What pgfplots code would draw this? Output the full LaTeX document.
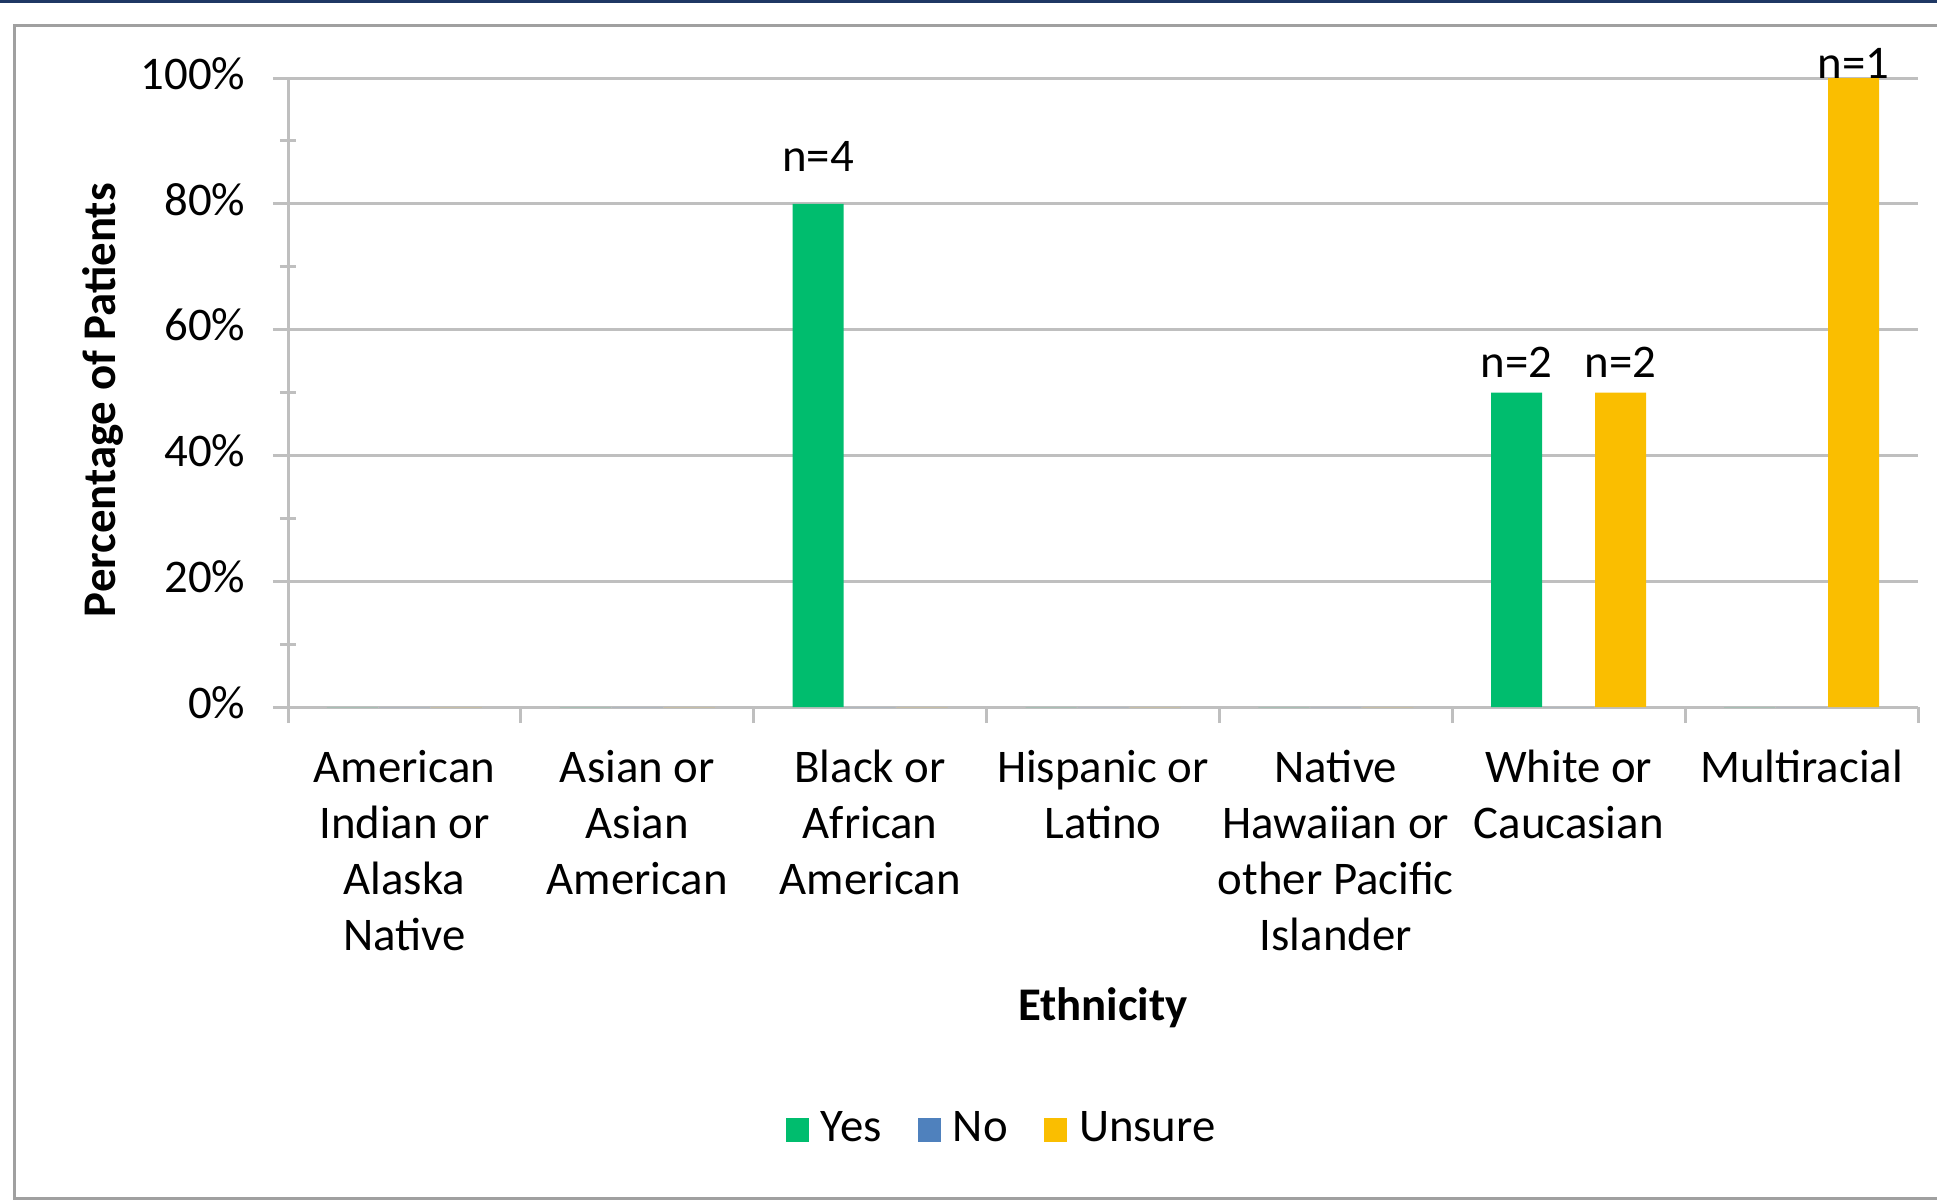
\documentclass[border=0pt]{standalone}
\usepackage{pgfplots}
\usepackage{pgfplotstable}
\pgfplotsset{compat=1.18}
\usepackage{fontspec}
\setmainfont{Carlito}
\definecolor{cgreen}{RGB}{0,189,110}
\definecolor{cblue}{RGB}{79,129,189}
\definecolor{cgold}{RGB}{250,190,0}
\definecolor{cgrid}{RGB}{191,191,191}
\definecolor{cframe}{RGB}{160,160,160}
\definecolor{cnavy}{RGB}{31,56,100}

\pgfplotstableread{
x yes no unsure
0 0 0 0
1 0 0 0
2 80 0 0
3 0 0 0
4 0 0 0
5 50 0 50
6 0 0 100
}\datatable

\pgfplotsset{sq legend/.style={legend image code/.code={\fill[##1] (0pt,-2.9pt) rectangle (5.8pt,2.9pt); \path (7.3pt,0pt);}}}

\begin{document}
\fontsize{11.7}{14}\selectfont
\begin{tikzpicture}[font=\fontsize{11.7}{14}\selectfont]
\useasboundingbox (0,0) rectangle (484.25pt,300.75pt);
\clip (0,0) rectangle (484.25pt,300.75pt);
\fill[cnavy] (0,300pt) rectangle (484.25pt,301pt);
\draw[cframe, line width=0.75pt] (490pt,294.25pt) -- (3.5pt,294.25pt) -- (3.5pt,1.25pt) -- (490pt,1.25pt);
\begin{axis}[
  at={(72pt,124pt)}, anchor=south west,
  width=407.5pt, height=157.25pt, scale only axis,
  xmin=-0.5, xmax=6.5, ymin=0, ymax=100,
  clip=false,
  axis lines*=left,
  axis line style={cgrid, line width=0.75pt},
  ymajorgrids,
  major grid style={cgrid, line width=0.75pt},
  tick align=outside,
  tick style={cgrid, line width=0.75pt},
  major tick length=3.75pt,
  minor tick length=4pt,
  minor y tick style={xshift=2pt},
  major x tick style={draw=none},
  xtick={0,...,6},
  minor xtick={-0.5,0.5,...,6.5},
  ytick={0,20,...,100},
  minor ytick={10,30,50,70,90},
  yticklabels={0\%,20\%,40\%,60\%,80\%,100\%},
  xticklabels={{American\\Indian or\\Alaska\\Native},{Asian or\\Asian\\American},{Black or\\African\\American},{Hispanic or\\Latino},{Native\\Hawaiian or\\other Pacific\\Islander},{White or\\Caucasian},{Multiracial}},
  typeset ticklabels with strut,
  x tick label style={align=center, inner sep=0pt, anchor=north, yshift=-5pt},
  y tick label style={inner sep=0pt, anchor=east, xshift=-6.7pt},
  xlabel={\bfseries Ethnicity},
  ylabel={\bfseries Percentage of Patients},
  xlabel style={at={(axis description cs:0.5,-0.4777)}, anchor=center, inner sep=0pt},
  ylabel style={at={(axis description cs:-0.1135,0.488)}, anchor=center, inner sep=0pt},
  ybar, bar width=12.75pt,
  legend columns=3,
  legend style={draw=none, at={(0.439,-0.6725)}, anchor=center,
    /tikz/every even column/.append style={column sep=7.5pt},
    nodes={inner sep=1.5pt}},
]
\addplot[fill=cgreen, draw=none, bar shift=-13pt, sq legend] table[x=x, y=yes] {\datatable};
\addlegendentry{Yes}
\addplot[fill=cblue, draw=none, bar shift=0pt, sq legend] table[x=x, y=no] {\datatable};
\addlegendentry{No}
\addplot[fill=cgold, draw=none, bar shift=13pt, sq legend] table[x=x, y=unsure] {\datatable};
\addlegendentry{Unsure}
\node[anchor=base, xshift=-13pt, yshift=8pt] at (axis cs:2,80) {n=4};
\node[anchor=base, xshift=-13pt, yshift=3.75pt] at (axis cs:5,50) {n=2};
\node[anchor=base, xshift=13pt, yshift=3.75pt] at (axis cs:5,50) {n=2};
\node[anchor=base, xshift=13pt, yshift=0pt] at (axis cs:6,100) {n=1};
\end{axis}
\end{tikzpicture}
\end{document}
